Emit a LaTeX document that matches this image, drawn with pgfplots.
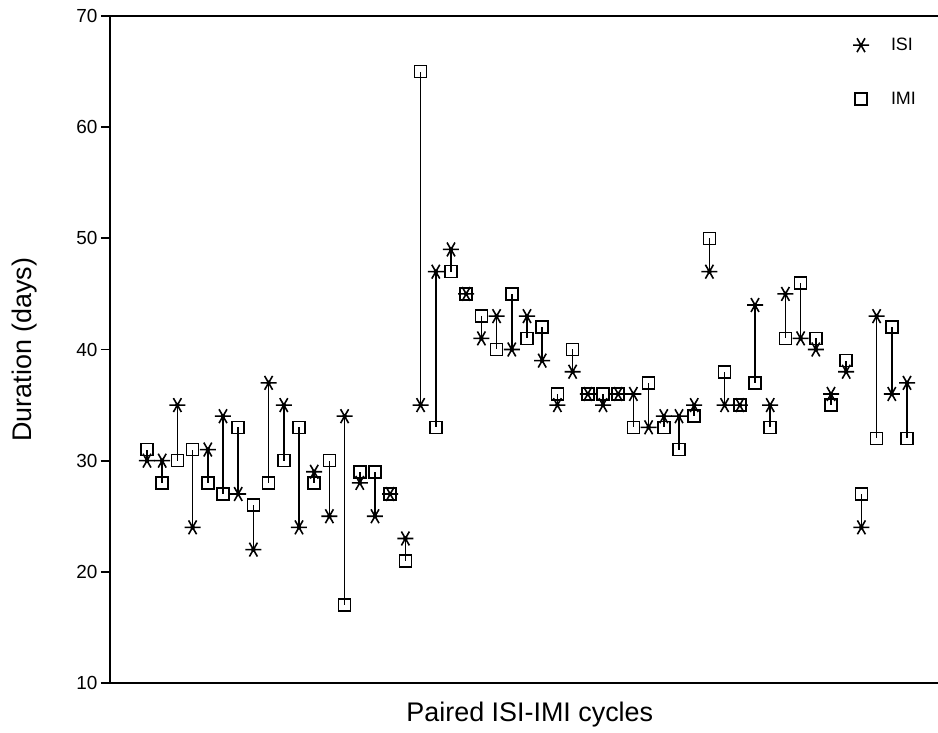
\documentclass[border=0pt]{standalone}
\usepackage{fontspec}
\setmainfont{Liberation Sans}
\usepackage{pgfplots}
\pgfplotsset{compat=1.18}
\usepackage{pgfplotstable}

\pgfplotstableread{
x isi imi
1 30 31
2 30 28
3 35 30
4 24 31
5 31 28
6 34 27
7 27 33
8 22 26
9 37 28
10 35 30
11 24 33
12 29 28
13 25 30
14 34 17
15 28 29
16 25 29
17 27 27
18 23 21
19 35 65
20 47 33
21 49 47
22 45 45
23 41 43
24 43 40
25 40 45
26 43 41
27 39 42
28 35 36
29 38 40
30 36 36
31 35 36
32 36 36
33 36 33
34 33 37
35 34 33
36 34 31
37 35 34
38 47 50
39 35 38
40 35 35
41 44 37
42 35 33
43 45 41
44 41 46
45 40 41
46 36 35
47 38 39
48 24 27
49 43 32
50 36 42
51 37 32
}\pairs

\begin{document}
\begin{tikzpicture}
\useasboundingbox (-110bp,-50bp) rectangle (828bp,683bp);
\begin{axis}[
  at={(0,0)}, anchor=south west,
  scale only axis, width=828bp, height=667bp,
  xmin=-1.434, xmax=53.04, ymin=10, ymax=70,
  axis x line*=box, axis y line*=left,
  axis line style={line width=1.8pt, black},
  xtick=\empty,
  ytick={10,20,30,40,50,60,70},
  tick align=outside,
  major tick length=9bp,
  tick style={line width=1.8pt, black},
  /pgf/number format/assume math mode=true,
  yticklabel style={font=\fontsize{19}{21}\selectfont},
  ylabel={Duration (days)},
  ylabel style={font=\fontsize{27}{30}\selectfont, at={(axis description cs:-0.1027,0.5)}, anchor=center},
  xlabel={Paired ISI-IMI cycles},
  xlabel style={font=\fontsize{27}{30}\selectfont, at={(axis description cs:0.507,-0.048)}, anchor=center},
  legend style={draw=none, fill=none, at={(0.8935,0.973)}, anchor=north west,
    font=\fontsize{18}{20}\selectfont, row sep=36bp,
    /tikz/every odd column/.append style={column sep=20bp}},
  legend cell align=left,
  clip=false,
]
\addplot[only marks, mark=none, forget plot,
  error bars/.cd, y dir=plus, y explicit, error mark=none,
  error bar style={line width=1.6pt, black}]
  table[x=x, y=isi, y error plus expr=\thisrow{imi}-\thisrow{isi}] {\pairs};
\addplot[only marks, black, mark=asterisk, mark size=8bp,
  mark options={rotate=90, line width=1.6pt}]
  table[x=x, y=isi] {\pairs};
\addlegendentry{ISI}
\addplot[only marks, black, mark=square, mark size=6bp,
  mark options={line width=1.6pt}]
  table[x=x, y=imi] {\pairs};
\addlegendentry{IMI}
\end{axis}
\end{tikzpicture}
\end{document}
